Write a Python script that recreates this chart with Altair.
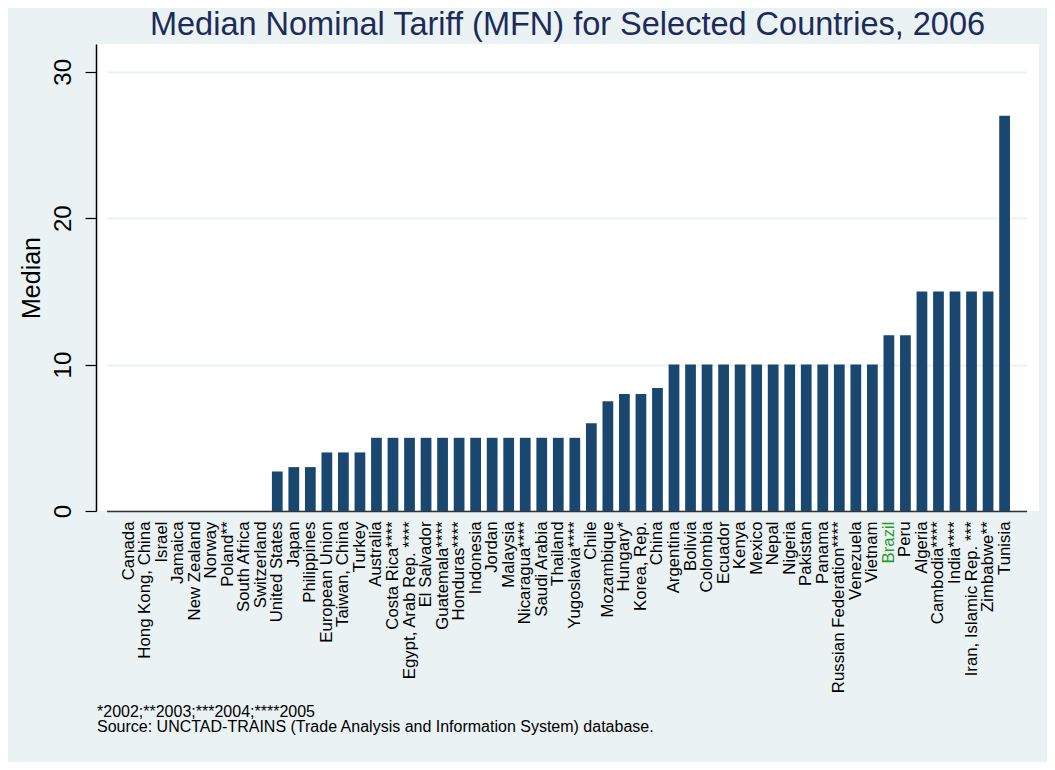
import altair as alt
import pandas as pd

countries = [
    "Canada", "Hong Kong, China", "Israel", "Jamaica", "New Zealand", "Norway",
    "Poland**", "South Africa", "Switzerland", "United States", "Japan",
    "Philippines", "European Union", "Taiwan, China", "Turkey", "Australia",
    "Costa Rica****", "Egypt, Arab Rep. ****", "El Salvador", "Guatemala****",
    "Honduras****", "Indonesia", "Jordan", "Malaysia", "Nicaragua****",
    "Saudi Arabia", "Thailand", "Yugoslavia****", "Chile", "Mozambique",
    "Hungary*", "Korea, Rep.", "China", "Argentina", "Bolivia", "Colombia",
    "Ecuador", "Kenya", "Mexico", "Nepal", "Nigeria", "Pakistan", "Panama",
    "Russian Federation****", "Venezuela", "Vietnam", "Brazil", "Peru",
    "Algeria", "Cambodia****", "India****", "Iran, Islamic Rep. ***",
    "Zimbabwe**", "Tunisia",
]
medians = [
    0, 0, 0, 0, 0, 0, 0, 0, 0, 2.7, 3, 3, 4, 4, 4, 5, 5, 5, 5, 5, 5, 5, 5, 5,
    5, 5, 5, 5, 6, 7.5, 8, 8, 8.4, 10, 10, 10, 10, 10, 10, 10, 10, 10, 10, 10,
    10, 10, 12, 12, 15, 15, 15, 15, 15, 27,
]
footnotes = [
    "*2002;**2003;***2004;****2005",
    "Source: UNCTAD-TRAINS (Trade Analysis and Information System) database.",
]
highlight = "Brazil"

df = pd.DataFrame({"country": countries, "median": medians})
notes = pd.DataFrame({"line": footnotes, "row": list(range(len(footnotes)))})

FONT = "Liberation Sans"

bars = alt.Chart(df).mark_bar(color="#1a476f").encode(
    x=alt.X(
        "country:N",
        sort=countries,
        scale=alt.Scale(paddingInner=0.35, paddingOuter=1, range=[10.6, 930.5]),
        axis=alt.Axis(
            title=None,
            labelAngle=-90,
            labelAlign="right",
            labelBaseline="middle",
            labelFontSize=16.8,
            labelFont=FONT,
            labelPadding=10,
            labelLimit=400,
            labelOverlap=False,
            ticks=False,
            domainColor="#333333",
            domainWidth=1.5,
            labelColor={
                "condition": {"test": f"datum.value === '{highlight}'", "value": "#2a9a2a"},
                "value": "black",
            },
        ),
    ),
    y=alt.Y(
        "median:Q",
        scale=alt.Scale(domain=[0, 31.9], nice=False, zero=True),
        axis=alt.Axis(
            title="Median",
            values=[0, 10, 20, 30],
            labelAngle=-90,
            labelAlign="center",
            labelBaseline="bottom",
            labelFontSize=24,
            labelFont=FONT,
            labelColor="black",
            labelPadding=10,
            tickSize=11,
            tickColor="black",
            tickWidth=1.2,
            domainColor="black",
            domainWidth=1.5,
            gridColor="#eaf2f3",
            gridWidth=2,
            titleFontSize=25,
            titleFont=FONT,
            titleFontWeight="normal",
            titleColor="black",
            titlePadding=7,
        ),
    ),
)

note_text = alt.Chart(notes).mark_text(
    align="left", baseline="middle", fontSize=16, font=FONT, color="black"
).encode(
    x=alt.value(1),
    y=alt.Y("row:O", axis=None, scale=alt.Scale(range=[668, 683], padding=0)),
    text="line:N",
)

chart = alt.layer(bars, note_text).resolve_scale(y="independent").properties(
    width=943,
    height=467,
    background="#eaf2f3",
    padding={"left": 88, "top": 36, "right": 8, "bottom": 251},
    autosize=alt.AutoSizeParams(type="none"),
    title=alt.TitleParams(
        "Median Nominal Tariff (MFN) for Selected Countries, 2006",
        fontSize=32.5,
        font=FONT,
        fontWeight="normal",
        color="#1c2b59",
        anchor="middle",
        offset=3,
    ),
).configure_view(fill="white", stroke=None)

chart.save("out.html", embed_options={"renderer": "svg", "actions": False})
